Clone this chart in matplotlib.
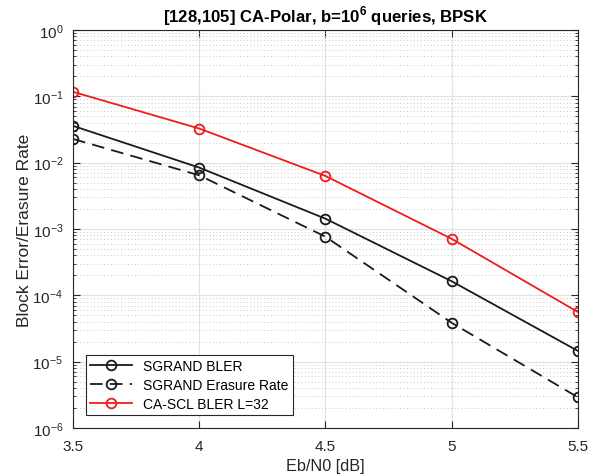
import matplotlib
matplotlib.use("Agg")
import matplotlib.pyplot as plt
from matplotlib.ticker import LogLocator, NullFormatter

plt.rcParams['font.family'] = ['Liberation Sans', 'DejaVu Sans']
plt.rcParams['mathtext.fontset'] = 'custom'
plt.rcParams['mathtext.rm'] = 'Liberation Sans'
plt.rcParams['mathtext.bf'] = 'Liberation Sans:bold'

ebn0 = [3.5, 4.0, 4.5, 5.0, 5.5]
sgrand_bler = [0.0359, 0.00843, 0.00143, 1.63e-4, 1.45e-5]
sgrand_erasure = [0.0228, 0.00645, 7.65e-4, 3.85e-5, 2.9e-6]
cascl_bler = [0.117, 0.0327, 0.0063, 7.1e-4, 5.6e-5]
xticks = [3.5, 4, 4.5, 5, 5.5]
xticklabels = ['3.5', '4', '4.5', '5', '5.5']

fig = plt.figure(figsize=(5.95, 4.77), dpi=100)
ax = fig.add_axes([0.1227, 0.1006, 0.8487, 0.8344])

lw = 1.3
ms = 7
ax.semilogy(ebn0, sgrand_bler, '-o', color='#1a1a1a', lw=lw, ms=ms, mfc='none', mew=1.3,
            label='SGRAND BLER')
ax.semilogy(ebn0, sgrand_erasure, '--o', color='#1a1a1a', lw=lw, ms=ms, mfc='none', mew=1.3,
            dashes=(7, 4), label='SGRAND Erasure Rate')
ax.semilogy(ebn0, cascl_bler, '-o', color='#ee1c1c', lw=lw, ms=ms, mfc='none', mew=1.3,
            label='CA-SCL BLER L=32')

ax.set_xlim(3.5, 5.5)
ax.set_ylim(1e-6, 1e0)
ax.set_xticks(xticks)
ax.set_xticklabels(xticklabels)
ax.yaxis.set_major_locator(LogLocator(base=10, numticks=10))
ax.yaxis.set_minor_locator(LogLocator(base=10, subs=range(2, 10), numticks=100))
ax.yaxis.set_minor_formatter(NullFormatter())

ax.grid(True, which='major', color='#e2e2e2', lw=0.9, ls='-')
ax.grid(True, which='minor', axis='y', color='#c8c8c8', lw=0.7, ls=(0, (1, 2.5)))
ax.set_axisbelow(True)

for s in ax.spines.values():
    s.set_color('#262626')
    s.set_linewidth(0.8)
ax.tick_params(which='both', direction='in', top=True, right=True, colors='#262626',
               labelsize=11)
ax.tick_params(which='major', length=5)
ax.tick_params(which='minor', length=2.5)
ax.tick_params(axis='x', which='major', pad=8)
ax.tick_params(axis='y', which='major', pad=7)
for lab in ax.get_xticklabels() + ax.get_yticklabels():
    lab.set_color('#262626')

ax.set_xlabel('Eb/N0 [dB]', fontsize=11.7, color='#262626', labelpad=3.5)
ax.set_ylabel('Block Error/Erasure Rate', fontsize=12.5, color='#262626', labelpad=0)
ax.set_title(r'[128,105] CA-Polar, b=10$^{\mathbf{6}}$ queries, BPSK', fontsize=12.1,
             fontweight='bold', color='black', pad=6)

leg = ax.legend(loc='lower left', fontsize=10, fancybox=False, framealpha=1,
                edgecolor='#262626', handlelength=3.0, borderaxespad=0.95,
                labelspacing=0.35, borderpad=0.3)
leg.get_frame().set_linewidth(0.8)

fig.savefig('out.png', dpi=100)
